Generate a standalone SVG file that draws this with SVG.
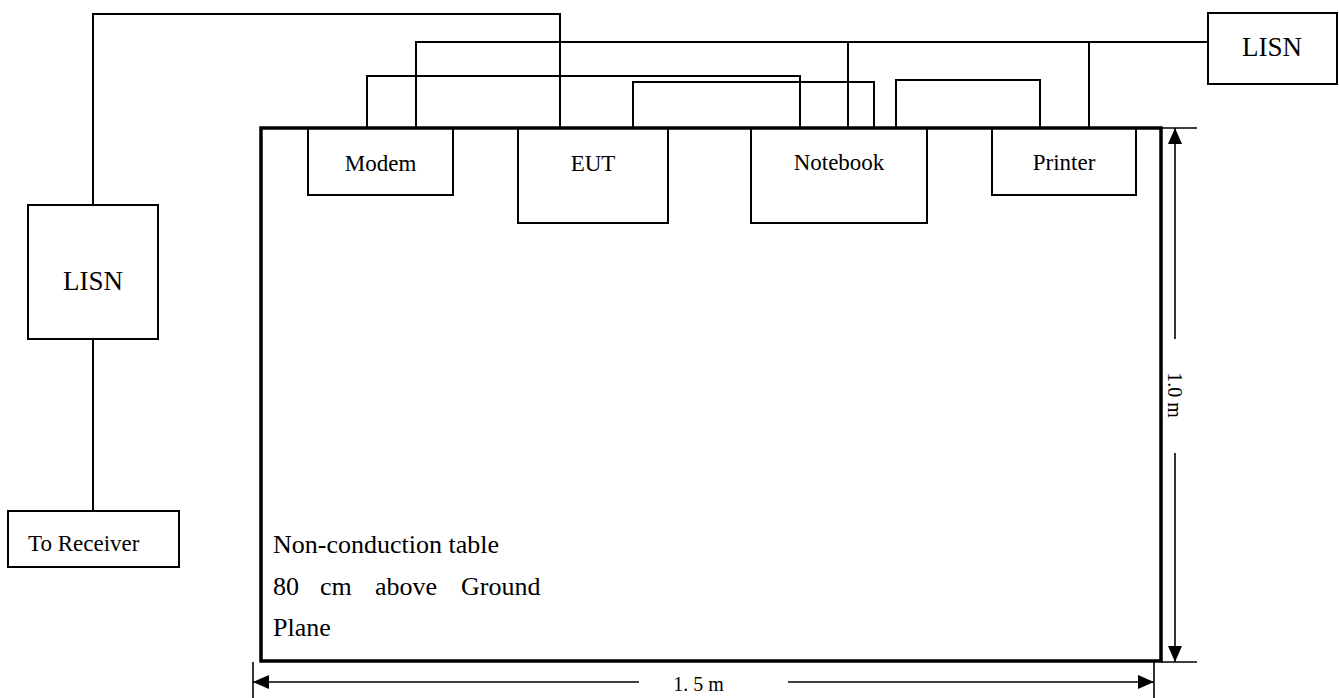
<svg xmlns="http://www.w3.org/2000/svg" width="1339" height="698" viewBox="0 0 1339 698">
<style>
.box{fill:none;stroke:#000;stroke-width:2}
.wire{fill:none;stroke:#000;stroke-width:2}
.dim{fill:none;stroke:#000;stroke-width:1.6}
.t{font-family:"Liberation Serif","Times New Roman",serif;fill:#000}
.lbl{font-size:23px;text-anchor:middle}
.lisn{font-size:27px;text-anchor:middle}
.tab{font-size:26px}
.dt{font-size:20px;text-anchor:middle}
</style>
<defs>
<marker id="ah" markerWidth="16" markerHeight="14" refX="16" refY="7" orient="auto" markerUnits="userSpaceOnUse">
<path d="M0,0 L16,7 L0,14 Z" fill="#000"/>
</marker>
</defs>
<rect width="1339" height="698" fill="#fff"/>

<g id="table">
<rect x="261" y="128" width="900" height="533" fill="none" stroke="#000" stroke-width="3.5"/>
<text class="t tab" x="273" y="553">Non-conduction table</text>
<text class="t tab" y="595"><tspan x="273">80</tspan><tspan x="320">cm</tspan><tspan x="375">above</tspan><tspan x="461">Ground</tspan></text>
<text class="t tab" x="273" y="636">Plane</text>
</g>

<g id="connectors">
<path class="wire" d="M93,205 V14 H560 V128"/>
<path class="wire" d="M416,128 V42 H1208"/>
<path class="wire" d="M848,42 V128"/>
<path class="wire" d="M1089,42 V128"/>
<path class="wire" d="M367,128 V76 H800 V128"/>
<path class="wire" d="M633,128 V82 H874 V128"/>
<path class="wire" d="M896,128 V80 H1040 V128"/>
<path class="wire" d="M93,339 V511"/>
</g>

<g id="modem">
<rect class="box" x="308" y="128" width="145" height="67" fill="#fff"/>
<text class="t lbl" x="380.5" y="171">Modem</text>
</g>
<g id="eut">
<rect class="box" x="518" y="128" width="150" height="95"/>
<text class="t lbl" x="593" y="171">EUT</text>
</g>
<g id="notebook">
<rect class="box" x="751" y="128" width="176" height="95"/>
<text class="t lbl" x="839" y="170">Notebook</text>
</g>
<g id="printer">
<rect class="box" x="992" y="128" width="144" height="67"/>
<text class="t lbl" x="1064" y="170">Printer</text>
</g>
<g id="lisn-right">
<rect class="box" x="1208" y="13" width="129" height="71"/>
<text class="t lisn" x="1272" y="56">LISN</text>
</g>
<g id="lisn-left">
<rect class="box" x="28" y="205" width="130" height="134"/>
<text class="t lisn" x="93" y="290">LISN</text>
</g>
<g id="receiver">
<rect class="box" x="8" y="511" width="171" height="56"/>
<text class="t" x="28" y="551" font-size="23">To Receiver</text>
</g>

<g id="dimensions">
<line class="dim" x1="1161" y1="128" x2="1197" y2="128"/>
<line class="dim" x1="1161" y1="662" x2="1197" y2="662"/>
<line class="dim" x1="1175" y1="339" x2="1175" y2="128" marker-end="url(#ah)"/>
<line class="dim" x1="1175" y1="453" x2="1175" y2="662" marker-end="url(#ah)"/>
<text class="t dt" transform="translate(1168,395) rotate(90)">1.0 m</text>
<line class="dim" x1="253" y1="662" x2="253" y2="698"/>
<line class="dim" x1="1154" y1="662" x2="1154" y2="698"/>
<line class="dim" x1="639" y1="682" x2="253" y2="682" marker-end="url(#ah)"/>
<line class="dim" x1="788" y1="682" x2="1154" y2="682" marker-end="url(#ah)"/>
<text class="t dt" x="698.5" y="691">1. 5 m</text>
</g>
</svg>
